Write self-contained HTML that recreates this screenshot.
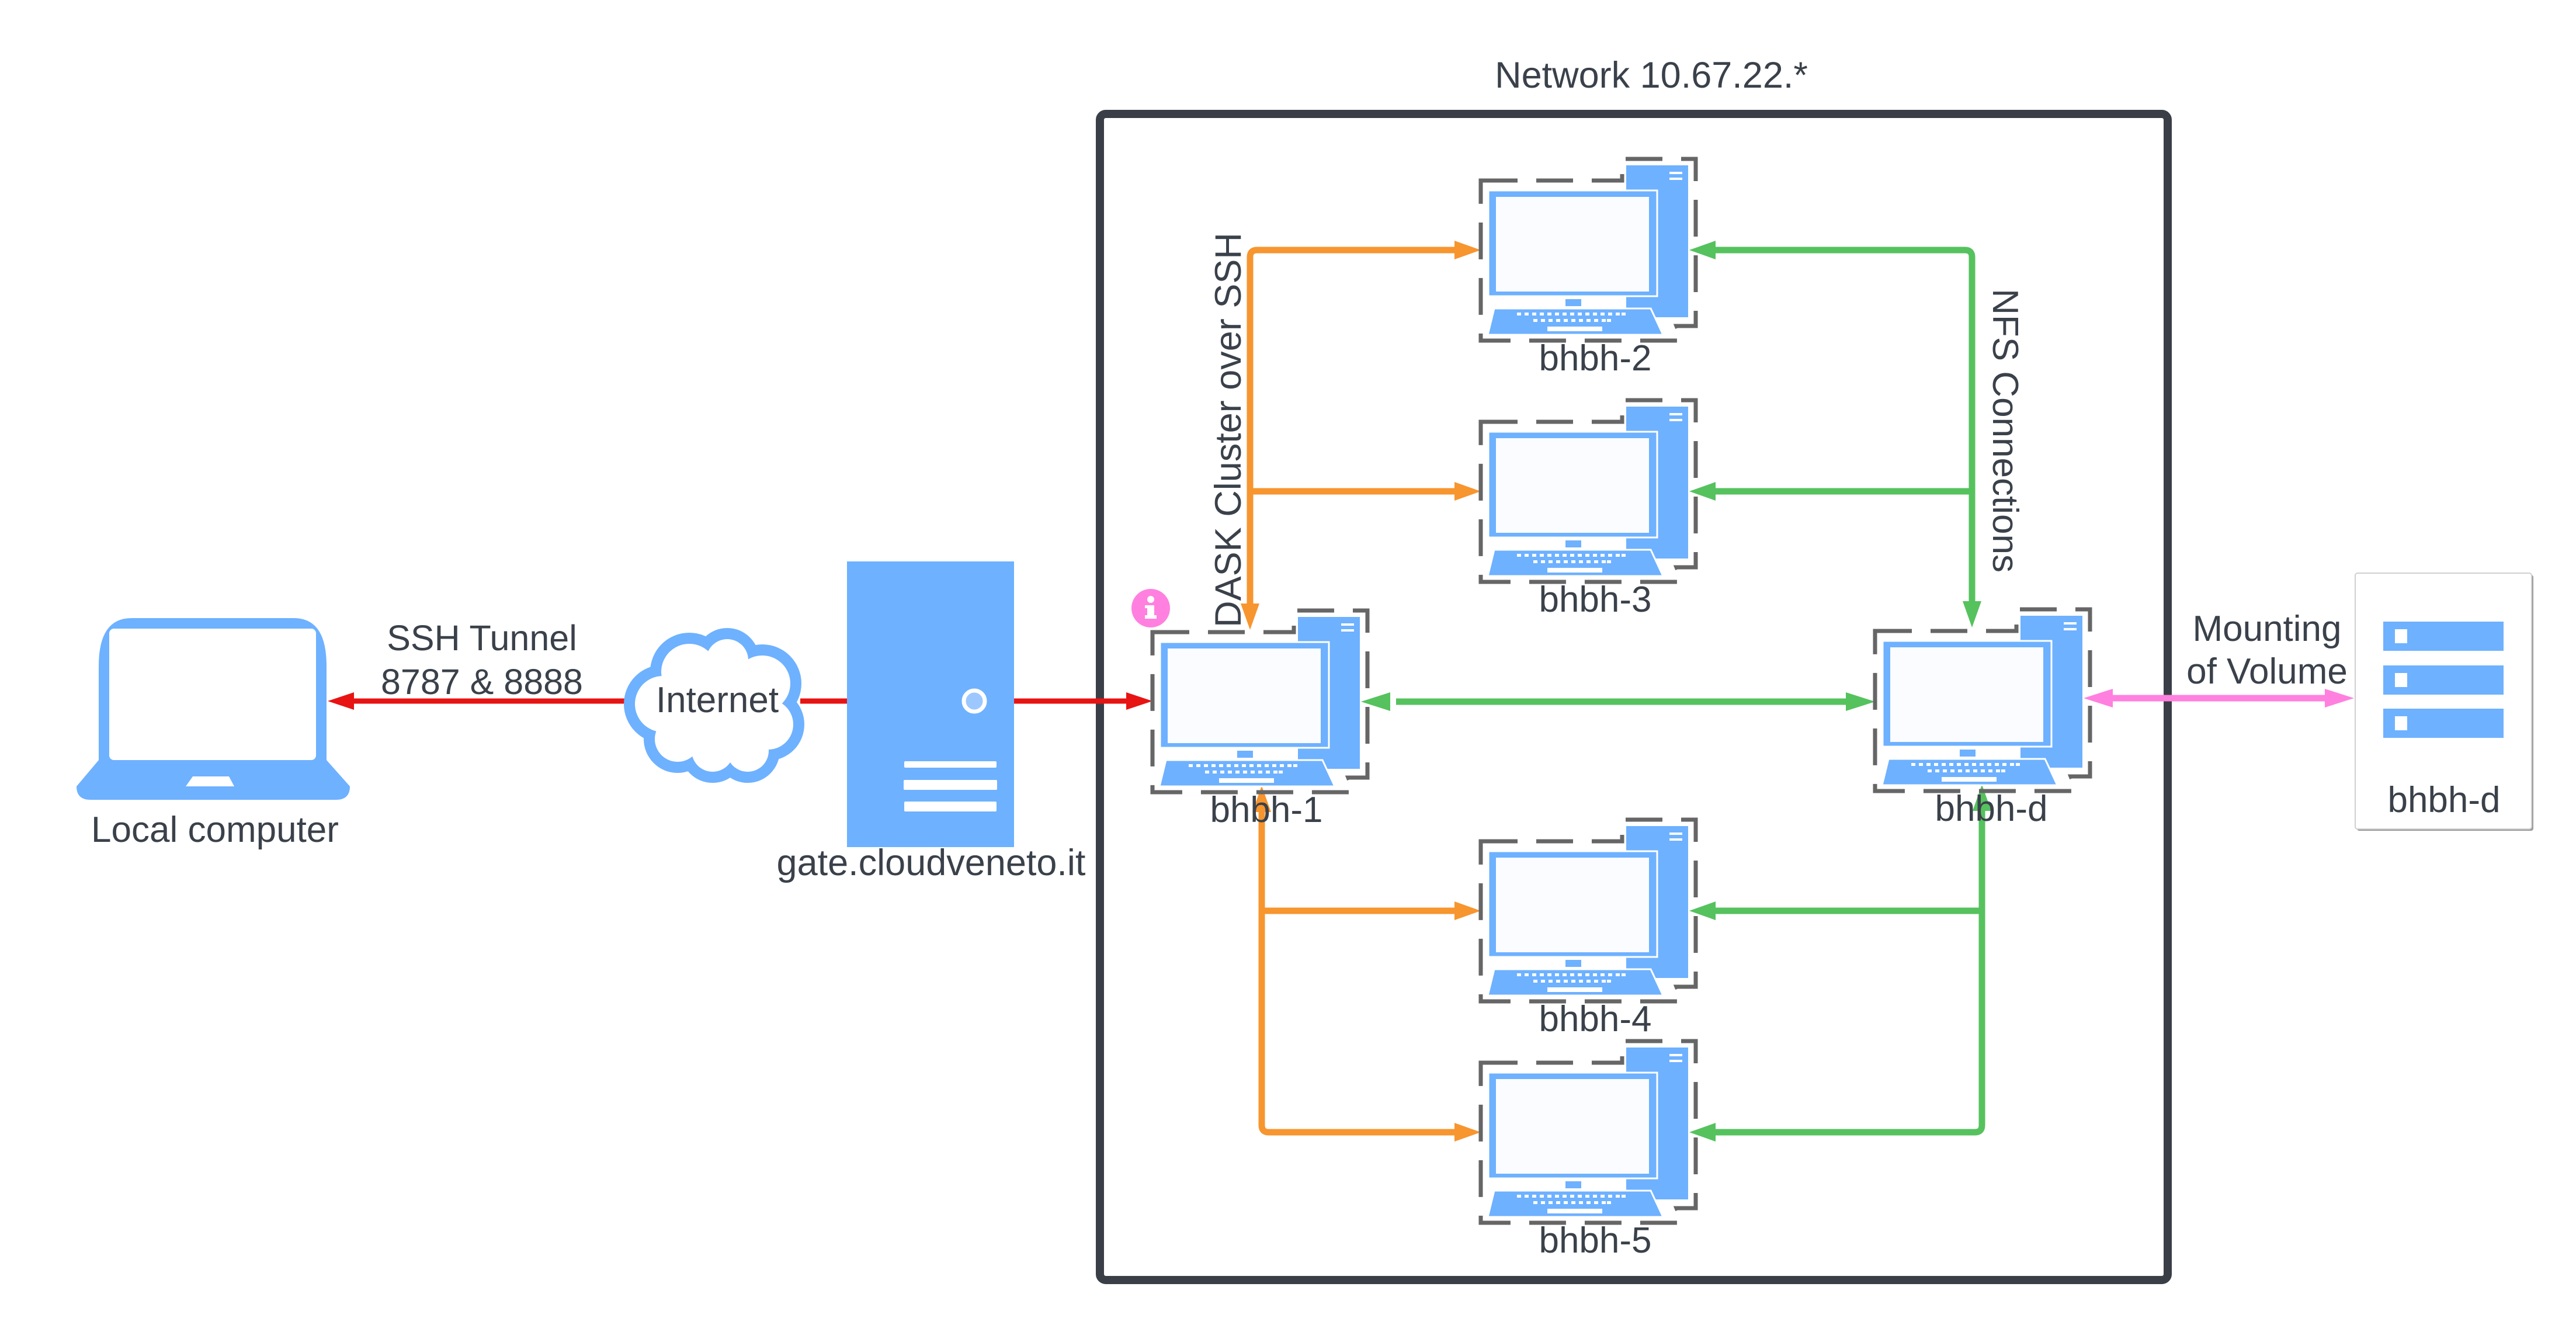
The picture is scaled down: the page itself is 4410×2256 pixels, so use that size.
<!DOCTYPE html>
<html><head><meta charset="utf-8"><style>
html,body{margin:0;padding:0;background:#fff;}
svg{display:block;}
text{font-family:"Liberation Sans",Arial,sans-serif;fill:#3a414a;}
</style></head><body>
<svg width="4410" height="2256" viewBox="0 0 4410 2256" xmlns="http://www.w3.org/2000/svg">
<defs>
<g id="pc">
  <path d="M0,37 H242 V0 H368 V286 H335 L345,311 H0 Z" fill="none" stroke="#666" stroke-width="7" stroke-dasharray="63 32"/>
  <rect x="248" y="10" width="108" height="262" fill="#6eb1ff" stroke="#fff" stroke-width="2"/>
  <rect x="323" y="22" width="22" height="4" fill="#fff"/>
  <rect x="323" y="32" width="22" height="4" fill="#fff"/>
  <rect x="13" y="54" width="289" height="181" fill="#6eb1ff" stroke="#fff" stroke-width="3"/>
  <rect x="26" y="65" width="262" height="162" fill="#fbfcff"/>
  <rect x="145" y="240" width="27" height="12" fill="#6eb1ff"/>
  <path d="M23,256 H291 L312,301 H12 Z" fill="#6eb1ff" stroke="#fff" stroke-width="3"/>
  <path d="M62,263h7v5h-7zM75,263h7v5h-7zM88,263h7v5h-7zM101,263h7v5h-7zM114,263h7v5h-7zM127,263h7v5h-7zM140,263h7v5h-7zM153,263h7v5h-7zM166,263h7v5h-7zM179,263h7v5h-7zM192,263h7v5h-7zM205,263h7v5h-7zM218,263h7v5h-7zM231,263h7v5h-7zM241,263h7v5h-7zM90,274h7v5h-7zM103,274h7v5h-7zM116,274h7v5h-7zM129,274h7v5h-7zM142,274h7v5h-7zM155,274h7v5h-7zM168,274h7v5h-7zM181,274h7v5h-7zM194,274h7v5h-7zM207,274h7v5h-7zM216,274h7v5h-7z" fill="#fff"/>
  <rect x="114" y="287" width="94" height="8" fill="#fff"/>
</g>
</defs>

<!-- Network box -->
<rect x="1883" y="195" width="1828" height="1996" rx="10" fill="none" stroke="#3a3f47" stroke-width="14"/>
<text x="2827" y="150" font-size="63" text-anchor="middle">Network 10.67.22.*</text>

<!-- Laptop -->
<path d="M169,1140 Q169,1058 225,1058 H503 Q559,1058 559,1140 V1301 H169 Z" fill="#6eb1ff"/>
<rect x="187" y="1076" width="354" height="225" rx="8" fill="#fff"/>
<path d="M169,1301 H559 L599,1346 Q599,1369 575,1369 H155 Q131,1369 131,1346 Z" fill="#6eb1ff"/>
<path d="M330,1329 H392 L401,1346 H318 Z" fill="#fff"/>
<text x="368" y="1441" font-size="62" text-anchor="middle">Local computer</text>

<!-- Red line -->
<line x1="600" y1="1200" x2="1080" y2="1200" stroke="#e81313" stroke-width="9"/>
<polygon points="561,1200 606,1185 606,1215" fill="#e81313"/>
<line x1="1370" y1="1200" x2="1450" y2="1200" stroke="#e81313" stroke-width="9"/>
<line x1="1736" y1="1200" x2="1930" y2="1200" stroke="#e81313" stroke-width="9"/>
<polygon points="1973,1200 1928,1185 1928,1215" fill="#e81313"/>
<text x="825" y="1113" font-size="61" text-anchor="middle">SSH Tunnel</text>
<text x="825" y="1188" font-size="61" text-anchor="middle">8787 &amp; 8888</text>

<!-- Cloud -->
<g fill="#6eb1ff">
  <circle cx="1135" cy="1205" r="67"/><circle cx="1180" cy="1150" r="67"/><circle cx="1245" cy="1130" r="55"/>
  <circle cx="1305" cy="1170" r="67"/><circle cx="1315" cy="1240" r="62"/><circle cx="1280" cy="1285" r="55"/>
  <circle cx="1220" cy="1285" r="55"/><circle cx="1160" cy="1265" r="58"/>
</g>
<g fill="#fff">
  <circle cx="1135" cy="1205" r="48"/><circle cx="1180" cy="1150" r="48"/><circle cx="1245" cy="1130" r="36"/>
  <circle cx="1305" cy="1170" r="48"/><circle cx="1315" cy="1240" r="43"/><circle cx="1280" cy="1285" r="36"/>
  <circle cx="1220" cy="1285" r="36"/><circle cx="1160" cy="1265" r="39"/><circle cx="1230" cy="1210" r="80"/>
</g>
<text x="1228" y="1219" font-size="62" text-anchor="middle">Internet</text>

<!-- Server -->
<rect x="1450" y="961" width="286" height="489" fill="#6eb1ff"/>
<circle cx="1668" cy="1200" r="18" fill="#9cc8ff" stroke="#fff" stroke-width="7"/>
<rect x="1548" y="1303" width="158" height="11" rx="2" fill="#fff"/>
<rect x="1547" y="1335" width="160" height="17" rx="2" fill="#fff"/>
<rect x="1548" y="1372" width="158" height="17" rx="2" fill="#fff"/>
<text x="1594" y="1498" font-size="63" text-anchor="middle">gate.cloudveneto.it</text>

<!-- Orange connectors -->
<g fill="none" stroke="#f7952f" stroke-width="11" stroke-linejoin="round">
  <path d="M2495,428 H2152 Q2140,428 2140,440 V1040"/>
  <line x1="2140" y1="841" x2="2495" y2="841"/>
  <path d="M2160,1365 V1926 Q2160,1938 2172,1938 H2495"/>
  <line x1="2160" y1="1559" x2="2495" y2="1559"/>
</g>
<g fill="#f7952f">
  <polygon points="2535,428 2490,412 2490,444"/>
  <polygon points="2535,841 2490,825 2490,857"/>
  <polygon points="2535,1559 2490,1543 2490,1575"/>
  <polygon points="2535,1938 2490,1922 2490,1954"/>
  <polygon points="2140,1078 2124,1033 2156,1033"/>
  <polygon points="2160,1345 2144,1390 2176,1390"/>
</g>

<!-- Green connectors -->
<g fill="none" stroke="#55c25e" stroke-width="11" stroke-linejoin="round">
  <path d="M2935,428 H3364 Q3376,428 3376,440 V1035"/>
  <line x1="2935" y1="841" x2="3376" y2="841"/>
  <path d="M3393,1370 V1926 Q3393,1938 3381,1938 H2935"/>
  <line x1="2935" y1="1559" x2="3393" y2="1559"/>
  <line x1="2390" y1="1201" x2="3170" y2="1201"/>
</g>
<g fill="#55c25e">
  <polygon points="2892,428 2937,412 2937,444"/>
  <polygon points="2892,841 2937,825 2937,857"/>
  <polygon points="2892,1559 2937,1543 2937,1575"/>
  <polygon points="2892,1938 2937,1922 2937,1954"/>
  <polygon points="3376,1074 3360,1029 3392,1029"/>
  <polygon points="3393,1343 3377,1388 3409,1388"/>
  <polygon points="2330,1201 2380,1185 2380,1217"/>
  <polygon points="3210,1201 3160,1185 3160,1217"/>
</g>

<!-- Pink -->
<line x1="3610" y1="1195" x2="3990" y2="1195" stroke="#ff80df" stroke-width="11"/>
<polygon points="3567,1195 3617,1179 3617,1211" fill="#ff80df"/>
<polygon points="4030,1195 3980,1179 3980,1211" fill="#ff80df"/>
<text x="3881" y="1097" font-size="62" text-anchor="middle">Mounting</text>
<text x="3881" y="1170" font-size="62" text-anchor="middle">of Volume</text>

<!-- Labels on lines -->
<text transform="translate(2124,736) rotate(-90)" font-size="63" text-anchor="middle">DASK Cluster over SSH</text>
<text transform="translate(3412,737) rotate(90)" font-size="62" text-anchor="middle">NFS Connections</text>

<!-- Computers -->
<use href="#pc" x="2535" y="272"/>
<text x="2731" y="634" font-size="62" text-anchor="middle">bhbh-2</text>
<use href="#pc" x="2535" y="685"/>
<text x="2731" y="1047" font-size="62" text-anchor="middle">bhbh-3</text>
<use href="#pc" x="1973" y="1045"/>
<text x="2168" y="1407" font-size="62" text-anchor="middle">bhbh-1</text>
<use href="#pc" x="3210" y="1043"/>
<text x="3409" y="1405" font-size="62" text-anchor="middle">bhbh-d</text>
<use href="#pc" x="2535" y="1403"/>
<text x="2731" y="1765" font-size="62" text-anchor="middle">bhbh-4</text>
<use href="#pc" x="2535" y="1782"/>
<text x="2731" y="2144" font-size="62" text-anchor="middle">bhbh-5</text>

<!-- info icon -->
<circle cx="1970" cy="1041" r="33" fill="#ff80df"/>
<rect x="1964" y="1036" width="12" height="22" fill="#fff"/>
<rect x="1960" y="1036" width="8" height="5" fill="#fff"/>
<rect x="1960" y="1053" width="20" height="6" fill="#fff"/>
<circle cx="1970" cy="1026" r="6" fill="#fff"/>

<!-- Storage -->
<rect x="4035" y="984" width="302" height="438" rx="4" fill="#9a9a9a"/>
<rect x="4032" y="981" width="302" height="438" rx="4" fill="#fff" stroke="#cfcfcf" stroke-width="2"/>
<rect x="4080" y="1064" width="206" height="50" fill="#6eb1ff"/>
<rect x="4080" y="1139" width="206" height="50" fill="#6eb1ff"/>
<rect x="4080" y="1213" width="206" height="50" fill="#6eb1ff"/>
<rect x="4100" y="1077" width="21" height="24" fill="#fff"/>
<rect x="4100" y="1152" width="21" height="24" fill="#fff"/>
<rect x="4100" y="1226" width="21" height="24" fill="#fff"/>
<text x="4184" y="1390" font-size="62" text-anchor="middle">bhbh-d</text>
</svg>
</body></html>
